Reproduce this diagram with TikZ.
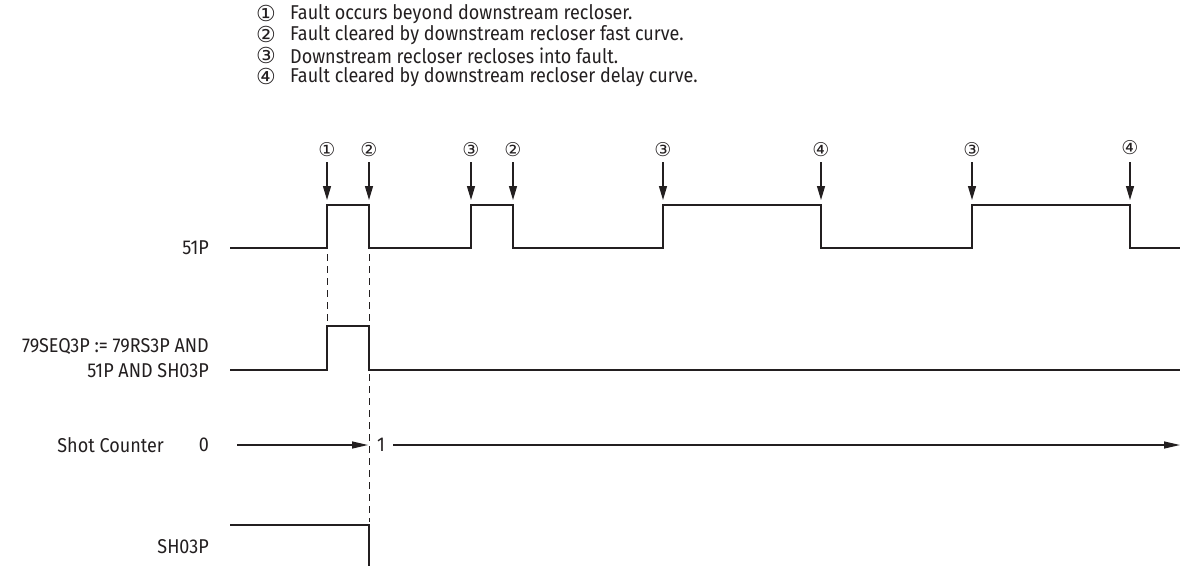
\documentclass[tikz,border=0pt]{standalone}
\usepackage{fontspec}
\setmainfont[FakeStretch=0.9]{Fira Sans}
\newfontfamily\symfont{DejaVu Sans}
\usetikzlibrary{arrows.meta}
\definecolor{ink}{HTML}{231F20}
\tikzset{
  txt/.style={font=\fontsize{20}{22}\selectfont, text=ink, inner sep=0pt},
  lbl/.style={txt, anchor=east},
  leg/.style={txt, anchor=west},
  legnum/.style={font=\symfont\fontsize{22}{22}\selectfont, text=ink, inner sep=0pt, text height=11pt, text depth=3pt},
  mknum/.style={font=\symfont\fontsize{19}{20}\selectfont, text=ink, inner sep=0pt},
  sig/.style={draw=ink, line width=1.3pt},
  guide/.style={draw=ink, line width=1pt, dash pattern=on 7pt off 5pt},
  mkarrow/.style={draw=ink, line width=1.3pt, -{Triangle[length=14pt,width=8pt]}},
  cntarrow/.style={draw=ink, line width=1.3pt, -{Triangle[length=16pt,width=7pt]}}
}
\begin{document}
\begin{tikzpicture}[x=1pt,y=-1pt]
\useasboundingbox (0,0) rectangle (1180,566);
% legend
\node[legnum] (n1) at (266,17) {①};
\node[legnum] (n2) at (266,38) {②};
\node[legnum] (n3) at (266,59) {③};
\node[legnum] (n4) at (266,80) {④};
\node[leg] (l1) at (290,14) {Fault occurs beyond downstream recloser.};
\node[leg] (l2) at (290,35) {Fault cleared by downstream recloser fast curve.};
\node[leg] (l3) at (290,56) {Downstream recloser recloses into fault.};
\node[leg] (l4) at (290,77) {Fault cleared by downstream recloser delay curve.};
% signal labels
\node[lbl] (s51) at (209,248) {51P};
\node[lbl] (sseqa) at (209,347) {79SEQ3P := 79RS3P AND};
\node[lbl] (sseqb) at (209,371) {51P AND SH03P};
\node[lbl] (sshot) at (164,445) {Shot Counter};
\node[txt] (c0) at (204,445) {0};
\node[txt] (c1) at (381,445) {1};
\node[lbl] (ssh) at (209,547) {SH03P};
% 51P waveform
\draw[sig] (230,248) -- (327,248) -- (327,205) -- (369,205) -- (369,248)
  -- (471,248) -- (471,205) -- (513,205) -- (513,248)
  -- (663,248) -- (663,205) -- (821,205) -- (821,248)
  -- (972,248) -- (972,205) -- (1130,205) -- (1130,248) -- (1180,248);
% markers
\foreach \nm/\x/\t/\yy in {m1/327/①/150, m2/369/②/150, m3/471/③/150, m4/513/②/150,
                         m5/663/③/150, m6/821/④/150, m7/972/③/150, m8/1130/④/148}{
  \node[mknum] (\nm) at (\x,\yy) {\t};
  \coordinate (\nm t) at (\x,200);
  \draw[mkarrow] (\x,162) -- (\nm t);
}
% 79SEQ3P waveform
\draw[sig] (230,370) -- (327,370) -- (327,326) -- (369,326) -- (369,370) -- (1180,370);
% shot counter
\coordinate (a0) at (237,445);
\coordinate (a1) at (368,445);
\coordinate (aend) at (1180,445);
\draw[cntarrow] (a0) -- (a1);
\draw[cntarrow] (393,445) -- (aend);
% SH03P
\draw[sig] (230,525) -- (369,525) -- (369,566);
% guides
\draw[guide] (327,254) -- (327,324);
\draw[guide] (369,254) -- (369,522);
\end{tikzpicture}
\end{document}
